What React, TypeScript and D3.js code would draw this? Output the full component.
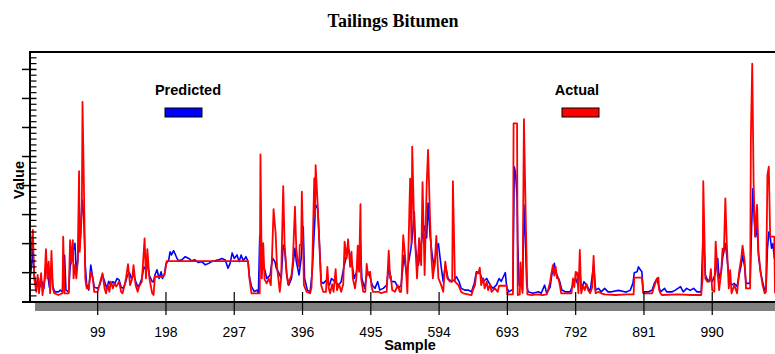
import * as d3 from "d3";

// sample number, value (axis units, major tick = 10)
const actual: [number, number][] = [
  [0, 9.2], [5, 24.7], [7, 8], [10, 3.4], [12, 9.2], [14, 2.9], [17, 9.8], [19, 2.3], [22, 8], [24, 18.1],
  [26, 8], [28, 13.8], [30, 2.9], [32, 17.5], [34, 4.6], [36, 2.9], [42, 2.3], [48, 2.9], [49, 22.4], [51, 2.9],
  [57, 2.9], [59, 21.2], [61, 13.8], [63, 21.2], [64, 8], [66, 12.6], [68, 8], [70, 13.8], [72, 45], [73, 17.2],
  [76, 31], [77, 68.8], [79, 40.2], [81, 8], [83, 4.6], [86, 4.6], [89, 10.3], [92, 8], [94, 3.4], [99, 3.4],
  [102, 6.3], [106, 9.8], [109, 4.6], [111, 2.9], [114, 5.7], [116, 3.4], [118, 6.9], [121, 4.6], [123, 6.3],
  [126, 5.2], [130, 6.9], [133, 3.4], [135, 2.9], [138, 5.7], [140, 8], [143, 12.9], [146, 5.7], [149, 8],
  [151, 12.6], [154, 5.7], [157, 3.4], [159, 5.2], [163, 6.9], [167, 21.8], [169, 8], [171, 18.1], [174, 8],
  [178, 2.9], [180, 2.3], [182, 8.6], [193, 8.6], [196, 9.2], [199, 14], [317, 14], [319, 8], [322, 2.9],
  [334, 2.9], [335, 50.7], [337, 8], [339, 20.2], [341, 7.7], [344, 6.3], [347, 8], [350, 5.7], [352, 17.2],
  [354, 31.9], [357, 23.5], [359, 12], [361, 8], [363, 3.4], [365, 8], [368, 39.8], [370, 19.5], [373, 10],
  [375, 5.9], [380, 9.2], [382, 14], [385, 32.7], [387, 18], [389, 13.8], [391, 12], [392, 19.5], [394, 20],
  [395, 37.9], [397, 18], [398, 5.7], [402, 3.4], [407, 2.9], [409, 5], [410, 11.5], [413, 42.5], [414, 30],
  [415, 47], [418, 33], [420, 22], [423, 5.7], [426, 3.4], [430, 3.4], [432, 12], [434, 4.6], [436, 2.9],
  [439, 6], [441, 3.4], [444, 11.2], [446, 4], [449, 6], [452, 3.4], [455, 6], [457, 20.7], [460, 14.9],
  [462, 21.5], [465, 12], [467, 17.2], [469, 8], [472, 4.6], [474, 8], [476, 19.3], [478, 10.3], [480, 33.6],
  [481, 8], [484, 3.4], [487, 3.4], [489, 13], [491, 9.2], [494, 10.3], [496, 5.2], [498, 3.4], [506, 3.4],
  [510, 2.9], [515, 3.4], [518, 3.4], [521, 17.6], [523, 8], [524, 8.8], [526, 4], [530, 3.4], [534, 5.7],
  [537, 3.4], [539, 3.4], [542, 22.9], [545, 14.9], [548, 2.9], [552, 42.4], [554, 20], [555, 53.4], [558, 25],
  [560, 17.2], [562, 8], [565, 21.9], [568, 12.6], [570, 41.2], [573, 9.2], [576, 40.3], [578, 52.3],
  [581, 27.5], [583, 14.9], [585, 8], [588, 14.4], [590, 22.7], [593, 8], [595, 6.9], [597, 5.7], [600, 3.4],
  [603, 13.8], [606, 8], [610, 6.9], [613, 6.9], [614, 41.5], [617, 6.9], [622, 5.7], [626, 3.4], [629, 2.9],
  [641, 2.3], [643, 4], [646, 5.7], [648, 9.8], [651, 9.8], [653, 11.7], [655, 5.7], [658, 8], [660, 4.6],
  [663, 6.9], [665, 4], [668, 6], [670, 3.4], [675, 4.6], [679, 3.4], [681, 5.5], [692, 5.5], [693, 2.5],
  [701, 2.5], [702, 61.4], [707, 61.4], [708, 2.3], [711, 2.5], [712, 13.5], [714, 5], [715, 3], [717, 62.9],
  [720, 24], [722, 2.5], [728, 2.3], [736, 2.5], [744, 2.3], [750, 2.5], [752, 4], [755, 6.9], [757, 10],
  [759, 12.6], [761, 9], [763, 12], [765, 8], [767, 8], [769, 5.7], [771, 2.9], [786, 2.9], [788, 8], [790, 5],
  [792, 10.3], [794, 10], [796, 2.9], [798, 17.8], [800, 2.9], [803, 5.7], [805, 4], [808, 6], [810, 4],
  [813, 2.9], [816, 5], [818, 15.8], [820, 5], [821, 2.9], [825, 3.4], [829, 2.9], [834, 2.5], [850, 2.3],
  [866, 2.5], [876, 2.5], [877, 8.3], [888, 8.3], [890, 2.9], [903, 2.9], [905, 4.6], [907, 6], [910, 8],
  [912, 8.3], [913, 4], [915, 2.9], [917, 2.3], [940, 2.5], [960, 2.3], [974, 2.3], [976, 8], [977, 41.5],
  [980, 8], [983, 6.9], [986, 6.9], [988, 11.2], [990, 3.9], [993, 3.4], [995, 20.7], [998, 9.2], [1000, 4],
  [1003, 10.3], [1005, 18.3], [1007, 17.5], [1009, 35.6], [1011, 20.7], [1014, 4.6], [1016, 10.9], [1018, 2.9],
  [1022, 5.7], [1026, 2.9], [1029, 10.3], [1032, 14.9], [1034, 19.3], [1037, 13.8], [1039, 4.6], [1045, 4.6],
  [1046, 56.2], [1048, 82], [1050, 41], [1052, 22.4], [1055, 33.3], [1057, 17.2], [1060, 10.3], [1063, 5.7],
  [1066, 2.9], [1068, 3.4], [1070, 43.6], [1072, 46.5], [1074, 22.4], [1080, 22.4], [1081, 2.9],
];

const predicted: [number, number][] = [
  [0, 6], [3, 12], [5, 17.7], [7, 9.2], [10, 5.7], [13, 8], [15, 5], [18, 7], [21, 4.6], [24, 12], [26, 10.3],
  [29, 5], [32, 12], [34, 5], [37, 3.4], [42, 3.4], [45, 4], [48, 3.4], [49, 10], [51, 16], [53, 4], [57, 3.4],
  [59, 12], [61, 14], [63, 17], [66, 20.1], [68, 10], [70, 14], [72, 25], [74, 22], [76, 34.4], [77, 35],
  [79, 28], [81, 12.6], [83, 6], [86, 4], [89, 12.6], [92, 8], [94, 5], [99, 4.6], [102, 5.7], [106, 9.2],
  [109, 7], [112, 4.6], [115, 7], [118, 5.7], [121, 6.9], [124, 6.3], [127, 8], [130, 7.5], [133, 5],
  [136, 4.6], [139, 6.3], [142, 9], [145, 10], [148, 8], [151, 9.5], [154, 7], [157, 5.2], [160, 6], [163, 8],
  [166, 12], [169, 11], [171, 13], [174, 9], [178, 6.9], [180, 6.9], [182, 9.2], [185, 11], [188, 8],
  [191, 10.3], [193, 8], [196, 9.8], [198, 13], [202, 14.4], [204, 17.2], [206, 16.1], [209, 17.6],
  [211, 16.6], [214, 14.9], [216, 14.1], [221, 14.4], [226, 15.5], [231, 14.9], [235, 14.1], [240, 14.4],
  [245, 13.5], [250, 13.8], [255, 12.7], [260, 13.2], [264, 13.8], [269, 14.1], [274, 14.4], [279, 14.9],
  [284, 14.4], [288, 11.5], [291, 13.2], [294, 16.8], [297, 14.9], [301, 16.1], [304, 13.8], [307, 16.1],
  [310, 14.1], [314, 15.5], [317, 13.8], [319, 8.6], [322, 5.2], [326, 3.5], [330, 4], [332, 2.9],
  [334, 22.9], [337, 9.8], [339, 12.6], [342, 10.3], [344, 8], [347, 8.6], [349, 9.2], [351, 12.6],
  [353, 14.9], [356, 13.8], [358, 11.5], [361, 10.3], [365, 8], [368, 19.5], [370, 18.4], [373, 9.2],
  [376, 5.7], [380, 8], [385, 18.4], [387, 13.8], [391, 9.2], [394, 14.9], [397, 25.8], [399, 8], [403, 4],
  [407, 3.4], [410, 10.3], [413, 24], [415, 33.3], [418, 32.2], [420, 22.9], [423, 6.9], [426, 6.3],
  [431, 7.5], [435, 5.7], [438, 8], [443, 6.9], [448, 5.7], [452, 6.9], [456, 12], [460, 16], [463, 18],
  [467, 14], [471, 8], [474, 10], [478, 16], [480, 20], [482, 8], [486, 4.6], [490, 10.5], [494, 8.5],
  [497, 5.7], [501, 4.6], [505, 6.9], [508, 4], [513, 4.6], [518, 5.7], [521, 12], [525, 6.9], [530, 6.9],
  [535, 4.6], [539, 5.7], [543, 16], [547, 9.2], [550, 14], [553, 18], [555, 22], [558, 30.9], [560, 18],
  [564, 12.6], [567, 18], [570, 23], [573, 26], [576, 22], [578, 34], [581, 22.5], [584, 16], [587, 11.5],
  [590, 18], [593, 20], [597, 12], [600, 6.9], [603, 12.6], [607, 8], [612, 6.9], [616, 7.5], [619, 8.6],
  [623, 6.9], [626, 4.6], [631, 4], [636, 4], [641, 3.4], [645, 6.3], [648, 10.3], [653, 10], [658, 6.9],
  [663, 8], [668, 5.7], [672, 4.6], [677, 5.7], [681, 8], [684, 7], [687, 8.5], [690, 10], [692, 5],
  [695, 3.4], [699, 4], [701, 4], [703, 46.5], [705, 44], [707, 36], [708, 20], [710, 5.7], [714, 6],
  [715, 4], [717, 33.3], [719, 22], [721, 6], [723, 3.4], [730, 2.9], [738, 3.4], [742, 2.9], [747, 5.7],
  [750, 2.9], [755, 5], [758, 10.3], [761, 13.2], [763, 10.3], [766, 8.6], [769, 6.9], [772, 4], [777, 3.4],
  [784, 3.4], [788, 5.7], [792, 8], [795, 6], [798, 11], [800, 4], [804, 6.9], [808, 5.7], [813, 3.4],
  [818, 12.6], [821, 4], [825, 4.6], [829, 3.4], [834, 4.6], [839, 3.4], [844, 3.4], [854, 3.9], [863, 3.4],
  [866, 3.4], [871, 3.9], [875, 6.3], [877, 10], [881, 10.3], [883, 12], [886, 10.9], [888, 10.3],
  [890, 3.4], [898, 3.4], [903, 4], [906, 6.3], [910, 8], [912, 5.7], [915, 3.4], [921, 4.6], [924, 3.4],
  [932, 3.4], [936, 3.9], [944, 5.2], [948, 3.4], [953, 4.6], [958, 3.9], [963, 4.6], [968, 3.4], [974, 3.4],
  [977, 24.7], [980, 9.2], [984, 7], [987, 8], [990, 6.9], [994, 9.2], [998, 14.9], [1000, 8], [1003, 10.3],
  [1005, 14.9], [1009, 20], [1011, 16], [1015, 6.9], [1018, 5.7], [1022, 6.3], [1026, 5.2], [1029, 9.2],
  [1032, 12.6], [1034, 16], [1037, 12], [1039, 6.3], [1043, 6.3], [1045, 6.9], [1047, 25], [1049, 39],
  [1051, 28], [1053, 22.4], [1055, 27], [1057, 16], [1060, 10.3], [1063, 6.9], [1066, 4], [1068, 4.6],
  [1070, 18], [1072, 24], [1074, 22.4], [1076, 18.4], [1078, 20], [1080, 15], [1081, 16],
];

const xTicks = [99, 198, 297, 396, 495, 594, 693, 792, 891, 990];
const seriesNames = ["Predicted", "Actual"];
const seriesColors = ["#0000ff", "#ff0000"];

const sans = "Arial, 'Liberation Sans', sans-serif";

export default function App() {
  const width = 775;
  const height = 354;
  const left = 30;
  const top = 52;
  const bottom = 302;

  const x = d3.scaleLinear().domain([0, 1081]).range([29.4, 775]);
  const y = d3.scaleLinear().domain([0, 86]).range([301.7, 52]);

  const line = d3
    .line<[number, number]>()
    .x((d) => x(d[0]))
    .y((d) => y(d[1]));

  const majors = d3.range(10, 86, 10);
  const minors = d3.range(2, 87, 2).filter((v) => v % 10 !== 0);

  return (
    <svg
      width={width}
      height={height}
      style={{ position: "absolute", left: 0, top: 0, background: "#fff" }}
    >
      <defs>
        <clipPath id="plot">
          <rect x={left} y={top} width={width - left} height={bottom - top} />
        </clipPath>
      </defs>

      <text
        x={393}
        y={27}
        textAnchor="middle"
        fontFamily="'Times New Roman', 'Liberation Serif', serif"
        fontWeight="bold"
        fontSize={18}
      >
        Tailings Bitumen
      </text>

      {/* shadow under x axis */}
      <rect x={35} y={303} width={width - 35} height={8} fill="#808080" />

      {/* series */}
      <g clipPath="url(#plot)" fill="none" strokeLinejoin="round">
        <path d={line(predicted) ?? ""} stroke={seriesColors[0]} strokeWidth={1.6} />
        <path d={line(actual) ?? ""} stroke={seriesColors[1]} strokeWidth={1.8} />
      </g>

      {/* frame */}
      <g stroke="#000" strokeWidth={2}>
        <line x1={left} x2={width} y1={top} y2={top} />
        <line x1={left} x2={left} y1={top - 1} y2={bottom + 1} />
        <line x1={22} x2={width} y1={bottom} y2={bottom} />
      </g>

      {/* y ticks */}
      <g stroke="#000">
        {majors.map((v) => (
          <line key={"M" + v} x1={22} x2={36.5} y1={y(v)} y2={y(v)} strokeWidth={1.5} />
        ))}
        {minors.map((v) => (
          <line key={"m" + v} x1={29.5} x2={36.5} y1={y(v)} y2={y(v)} strokeWidth={1.2} />
        ))}
      </g>

      {/* x ticks */}
      <g>
        {xTicks.map((t) => (
          <g key={t}>
            <line x1={x(t)} x2={x(t)} y1={292} y2={315} stroke="#000" strokeWidth={1.2} />
            <text
              x={x(t)}
              y={337}
              textAnchor="middle"
              fontFamily={sans}
              fontSize={14}
              fill="#000"
            >
              {t}
            </text>
          </g>
        ))}
      </g>

      <text x={410} y={350} textAnchor="middle" fontFamily={sans} fontWeight="bold" fontSize={14.5}>
        Sample
      </text>
      <text
        transform="translate(24,180) rotate(-90)"
        textAnchor="middle"
        fontFamily={sans}
        fontWeight="bold"
        fontSize={14.5}
      >
        Value
      </text>

      {/* legend */}
      {seriesNames.map((name, i) => {
        const lx = i === 0 ? 188 : 577;
        const rx = i === 0 ? 165 : 562;
        return (
          <g key={name}>
            <text
              x={lx}
              y={95}
              textAnchor="middle"
              fontFamily={sans}
              fontWeight="bold"
              fontSize={14.5}
            >
              {name}
            </text>
            <rect
              x={rx}
              y={108}
              width={37}
              height={9}
              fill={seriesColors[i]}
              stroke="#000"
              strokeWidth={1}
            />
          </g>
        );
      })}
    </svg>
  );
}
